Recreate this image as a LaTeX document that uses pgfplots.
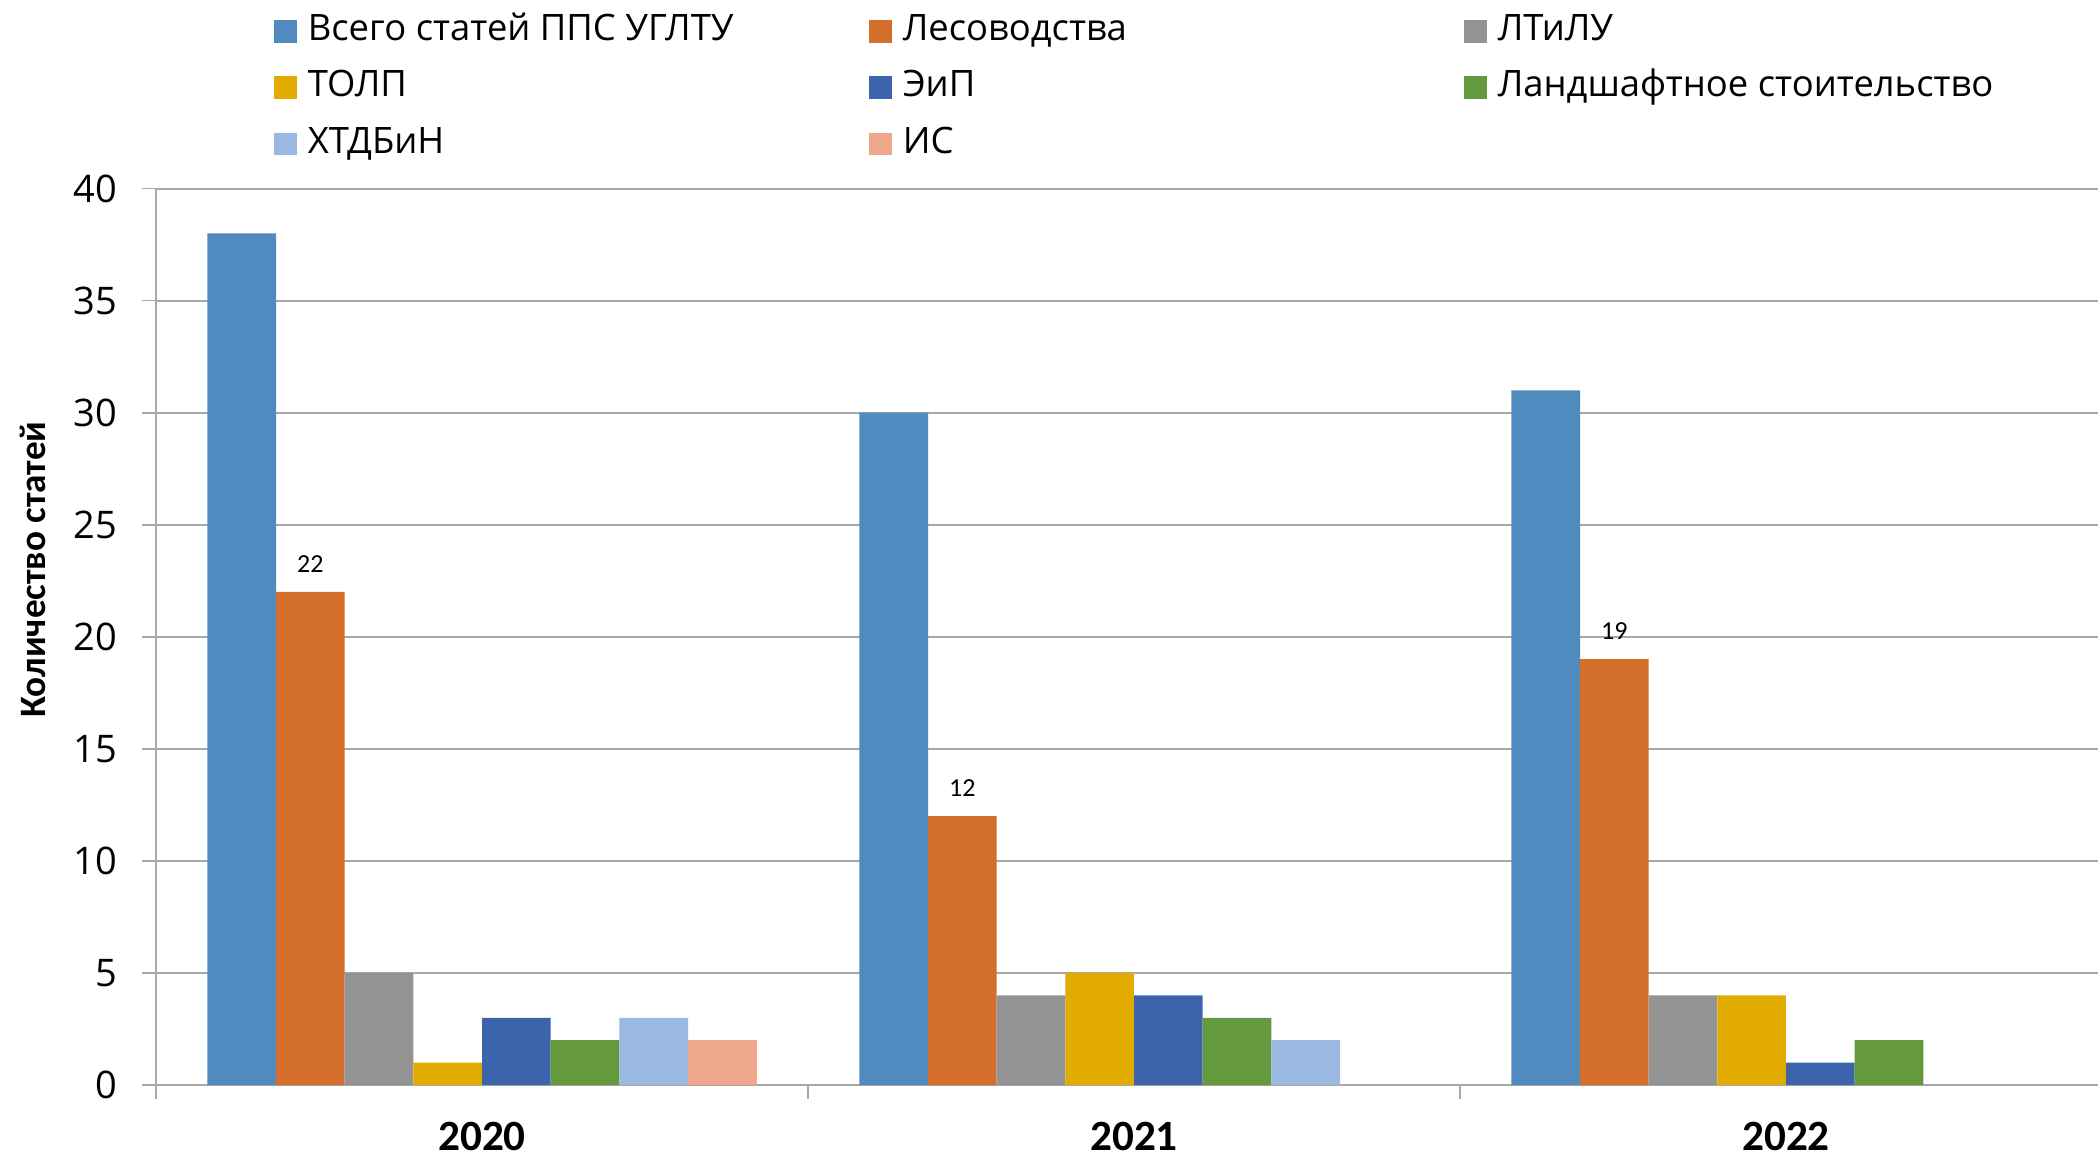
\documentclass[border=0pt]{standalone}
\usepackage{pgfplots}
\pgfplotsset{compat=1.18}
\usepackage{fontspec}
\setmainfont{Open Sans}
\newfontfamily\carlito{Carlito}
\definecolor{c1}{HTML}{508ABE}
\definecolor{c2}{HTML}{D46F2B}
\definecolor{c3}{HTML}{939393}
\definecolor{c4}{HTML}{E2AB00}
\definecolor{c5}{HTML}{3C64AD}
\definecolor{c6}{HTML}{64993E}
\definecolor{c7}{HTML}{99B9E0}
\definecolor{c8}{HTML}{F0A88A}
\definecolor{gridc}{HTML}{A8A8A8}
\pgfplotsset{mybar/.style={ybar, bar width=0.1053, draw=none, fill=#1,
  legend image code/.code={\fill[#1] (0pt,-2.85pt) rectangle (5.7pt,2.85pt);}}}
\begin{document}
\begin{tikzpicture}
\path[use as bounding box] (0,0) rectangle (524.5pt,289.75pt);
\begin{axis}[
  at={(39pt,18.5pt)}, anchor=south west,
  scale only axis, width=489pt, height=224.1pt,
  xmin=-0.5, xmax=2.5, ymin=0, ymax=40,
  axis lines*=left,
  axis line style={draw=gridc, line width=0.5pt},
  ytick={0,5,...,40},
  ymajorgrids, grid style={gridc, line width=0.5pt},
  tick align=outside, major tick length=3.5pt,
  tick style={gridc, line width=0.4pt},
  xtick={-0.5,0.5,1.5,2.5}, xticklabels={},
  extra x ticks={0,1,2}, extra x tick labels={2020,2021,2022},
  extra x tick style={major tick length=0pt, grid=none,
    xticklabel style={font=\carlito\bfseries\fontsize{10.8}{13}\selectfont, inner sep=0pt, text depth=0pt, anchor=north, yshift=-9.2pt}},
  yticklabel style={font=\fontsize{9.5}{11}\selectfont, xshift=-2.7pt},
  /pgf/number format/assume math mode=true,
  ylabel={Количество статей},
  ylabel style={font=\carlito\bfseries\fontsize{9.3}{11}\selectfont, at={(axis description cs:-0.0629,0.575)}, anchor=center},
  legend columns=3,
  legend cell align=left,
  legend style={draw=none, fill=none, at={(axis description cs:0,1)}, anchor=north west,
    xshift=29.5pt, yshift=43.6pt, inner sep=0pt, outer sep=0pt,
    font=\fontsize{9.1}{11}\selectfont,
    nodes={inner sep=0pt, text height=6.5pt, text depth=2pt},
    row sep=5.6pt,
    /tikz/every odd column/.append style={column sep=2.75pt},
    /tikz/every even column/.append style={column sep=0pt}},
]
\addplot[mybar=c1, bar shift=-0.3686] coordinates {(0,38) (1,30) (2,31)};
\addlegendentry{\makebox[140.3pt][l]{Всего статей ППС УГЛТУ}}
\addplot[mybar=c2, bar shift=-0.2633, nodes near coords,
  every node near coord/.append style={font=\carlito\fontsize{6.5}{8}\selectfont, inner sep=0pt, shift={(axis direction cs:-0.2633,0)}, yshift=4.7pt, text=black}] coordinates {(0,22) (1,12) (2,19)};
\addlegendentry{\makebox[140.3pt][l]{Лесоводства}}
\addplot[mybar=c3, bar shift=-0.1580] coordinates {(0,5) (1,4) (2,4)};
\addlegendentry{\makebox[140.3pt][l]{ЛТиЛУ}}
\addplot[mybar=c4, bar shift=-0.0527] coordinates {(0,1) (1,5) (2,4)};
\addlegendentry{\makebox[140.3pt][l]{ТОЛП}}
\addplot[mybar=c5, bar shift=0.0527] coordinates {(0,3) (1,4) (2,1)};
\addlegendentry{\makebox[140.3pt][l]{ЭиП}}
\addplot[mybar=c6, bar shift=0.1580] coordinates {(0,2) (1,3) (2,2)};
\addlegendentry{\makebox[140.3pt][l]{Ландшафтное стоительство}}
\addplot[mybar=c7, bar shift=0.2633] coordinates {(0,3) (1,2)};
\addlegendentry{\makebox[140.3pt][l]{ХТДБиН}}
\addplot[mybar=c8, bar shift=0.3686] coordinates {(0,2)};
\addlegendentry{\makebox[140.3pt][l]{ИС}}
\end{axis}
\end{tikzpicture}
\end{document}
